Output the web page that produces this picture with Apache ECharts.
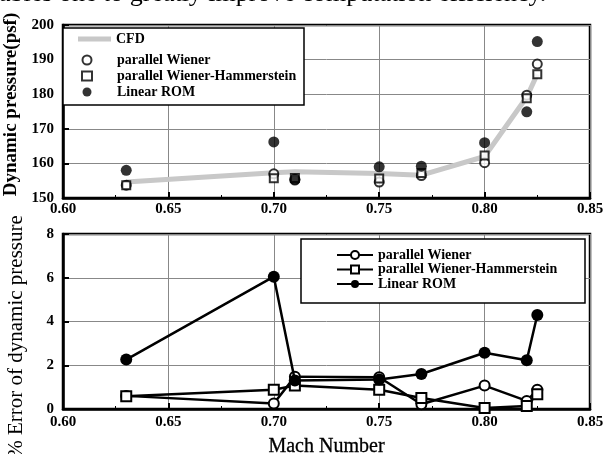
<!DOCTYPE html>
<html><head><meta charset="utf-8">
<script src="https://cdn.jsdelivr.net/npm/echarts@6/dist/echarts.min.js"></script>
<style>html,body{margin:0;padding:0;background:#fff}#c{width:603px;height:454px}</style>
</head><body><div id="c"></div>
<script>
const mach = [0.63, 0.70, 0.71, 0.75, 0.77, 0.80, 0.82, 0.825];
const cfdP = [154.6, 157.3, 157.6, 157.1, 156.6, 162.0, 179.2, 185.8];
const wienerP = [153.7, 157.0, 155.2, 154.6, 156.5, 160.2, 179.7, 188.7];
const whP = [153.7, 155.7, 155.8, 155.6, 157.2, 162.3, 178.8, 185.8];
const romP = [158.0, 166.2, 155.4, 159.0, 159.2, 166.0, 174.9, 195.2];
const wienerE = [0.6, 0.25, 1.48, 1.45, 0.22, 1.07, 0.37, 0.88];
const whE = [0.58, 0.88, 1.07, 0.88, 0.5, 0.05, 0.14, 0.68];
const romE = [2.26, 6.05, 1.3, 1.35, 1.6, 2.57, 2.23, 4.3];
const names = ['CFD', 'parallel Wiener', 'parallel Wiener-Hammerstein', 'Linear ROM'];
const headText = 'ables one to greatly improve computation efficiency.';

const pair = (xs, ys) => xs.map((x, i) => [x, ys[i]]);
const F = 'Liberation Serif';
const lbl = { fontFamily: F, fontWeight: 'bold', fontSize: 15, color: '#000' };
const leg = { fontFamily: F, fontWeight: 'bold', fontSize: 14, color: '#000' };
function xAx(idx, margin) {
  return {
    type: 'value', gridIndex: idx, min: 0.6, max: 0.85, interval: 0.05,
    axisLine: { show: true, lineStyle: { color: '#000', width: 2.5 } },
    axisTick: { show: true, inside: true, length: 6, lineStyle: { color: '#000', width: 2 } },
    minorTick: { show: true, splitNumber: 2, length: 3, lineStyle: { color: '#000', width: 1 } },
    splitLine: { show: true, lineStyle: { color: '#888', width: 1 } },
    axisLabel: Object.assign({ margin: margin, formatter: v => v.toFixed(2) }, lbl)
  };
}
function yAx(idx, min, max, interval) {
  return {
    type: 'value', gridIndex: idx, min: min, max: max, interval: interval,
    axisLine: { show: true, lineStyle: { color: '#000', width: 2.5 } },
    axisTick: { show: true, inside: true, length: 6, lineStyle: { color: '#000', width: 2 } },
    splitLine: { lineStyle: { color: '#888', width: 1 } },
    axisLabel: Object.assign({ margin: 9 }, lbl)
  };
}
const openCircle = { color: '#fff', borderColor: '#000', borderWidth: 2 };
const openSquare = { color: '#fff', borderColor: '#000', borderWidth: 2 };
const filled = { color: '#000', borderColor: '#000', borderWidth: 0 };

const option = {
  animation: false,
  backgroundColor: '#fff',
  graphic: [
    { type: 'text', x: -1, y: -6, style: { text: headText, font: '26px "Liberation Serif"', fill: '#000', verticalAlign: 'middle', align: 'left' } },
    { type: 'rect', z: 3, shape: { x: 63, y: 28, width: 241, height: 77 }, style: { fill: '#fff', stroke: '#000', lineWidth: 1.5 } },
    { type: 'rect', z: 3, shape: { x: 301, y: 239, width: 284, height: 64 }, style: { fill: '#fff', stroke: '#000', lineWidth: 1.5 } }
  ],
  grid: [
    { left: 63, right: 13, top: 25, height: 173, show: true, borderColor: '#000', borderWidth: 2.5, outerBoundsMode: 'none', containLabel: false },
    { left: 63, right: 13, top: 234, height: 175, show: true, borderColor: '#000', borderWidth: 2.5, outerBoundsMode: 'none', containLabel: false }
  ],
  xAxis: [
    xAx(0, 4),
    Object.assign(xAx(1, 6), { name: 'Mach Number', nameLocation: 'middle', nameGap: 28,
      nameTextStyle: { fontFamily: F, fontSize: 20, color: '#000', textBorderColor: '#000', textBorderWidth: 0.3 } })
  ],
  yAxis: [
    Object.assign(yAx(0, 150, 200, 10), {
      name: 'Dynamic pressure(psf)', nameLocation: 'middle', nameGap: 40, nameRotate: 90,
      nameTextStyle: { fontFamily: F, fontSize: 19, fontWeight: 'bold', color: '#000', padding: [0, 0, 0, 14] } }),
    Object.assign(yAx(1, 0, 8, 2), {
      name: '% Error of dynamic pressure', nameLocation: 'middle', nameGap: 36, nameRotate: 90,
      nameTextStyle: { fontFamily: F, fontSize: 21, color: '#000', padding: [0, 30, 0, 0] } })
  ],
  legend: [
    { data: [{ name: names[0], icon: 'rect' }], left: 78, top: 32, padding: 0, orient: 'vertical',
      itemWidth: 33, itemHeight: 5, textStyle: leg, z: 10 },
    { data: names.slice(1), left: 81, top: 53, padding: 0, orient: 'vertical', itemWidth: 10, itemHeight: 9,
      textStyle: Object.assign({ padding: [0, 0, 0, 20] }, leg), itemGap: 2, z: 10 },
    { data: names.slice(1).map(n => n + ' '), left: 336, top: 248, padding: 0, orient: 'vertical', itemWidth: 36, itemHeight: 10,
      textStyle: leg, itemGap: 0.5, z: 10 }
  ],
  series: [
    { name: names[0], type: 'line', xAxisIndex: 0, yAxisIndex: 0, data: pair(mach, cfdP), symbol: 'none',
      lineStyle: { color: '#c8c8c8', width: 5 }, itemStyle: { color: '#c8c8c8' }, z: 2 },
    { name: names[1], type: 'scatter', xAxisIndex: 0, yAxisIndex: 0, data: pair(mach, wienerP), symbol: 'circle', symbolSize: 9, itemStyle: openCircle, z: 3 },
    { name: names[2], type: 'scatter', xAxisIndex: 0, yAxisIndex: 0, data: pair(mach, whP), symbol: 'rect', symbolSize: 8, itemStyle: openSquare, z: 4 },
    { name: names[3], type: 'scatter', xAxisIndex: 0, yAxisIndex: 0, data: pair(mach, romP), symbol: 'circle', symbolSize: 11, itemStyle: filled, z: 5 },
    { name: names[1] + ' ', type: 'line', xAxisIndex: 1, yAxisIndex: 1, data: pair(mach, wienerE), symbol: 'circle', symbolSize: 10,
      showAllSymbol: true, lineStyle: { color: '#000', width: 2.5 }, itemStyle: openCircle, z: 3 },
    { name: names[2] + ' ', type: 'line', xAxisIndex: 1, yAxisIndex: 1, data: pair(mach, whE), symbol: 'rect', symbolSize: 10,
      showAllSymbol: true, lineStyle: { color: '#000', width: 2.5 }, itemStyle: openSquare, z: 4 },
    { name: names[3] + ' ', type: 'line', xAxisIndex: 1, yAxisIndex: 1, data: pair(mach, romE), symbol: 'circle', symbolSize: 12,
      showAllSymbol: true, lineStyle: { color: '#000', width: 2.5 }, itemStyle: filled, z: 5 }
  ]
};
const chart = echarts.init(document.getElementById('c'), null, { renderer: 'canvas' });
chart.setOption(option);
</script></body></html>
